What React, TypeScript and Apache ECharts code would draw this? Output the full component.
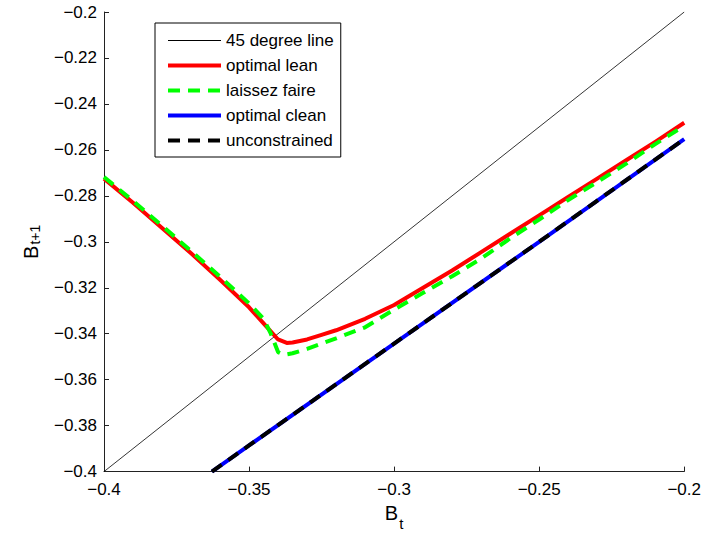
import React, { useEffect, useRef } from "react";
import * as echarts from "echarts";

// 45 degree line
const diagX = [-0.4, -0.2];
const diagY = [-0.4, -0.2];

// optimal lean
const leanX = [-0.4, -0.39, -0.38, -0.37, -0.36, -0.35, -0.345, -0.34, -0.337, -0.335, -0.33, -0.325, -0.32, -0.31, -0.3, -0.29, -0.28, -0.27, -0.26, -0.25, -0.24, -0.23, -0.22, -0.21, -0.2];
const leanY = [-0.2725, -0.283, -0.294, -0.305, -0.3165, -0.3285, -0.3355, -0.3425, -0.344, -0.3438, -0.3425, -0.3405, -0.3385, -0.3335, -0.3275, -0.32, -0.3125, -0.3045, -0.2965, -0.2885, -0.2805, -0.2725, -0.2645, -0.2565, -0.2482];

// laissez faire
const lfX = [-0.4, -0.39, -0.38, -0.37, -0.36, -0.35, -0.345, -0.3425, -0.34, -0.338, -0.335, -0.33, -0.32, -0.31, -0.3, -0.29, -0.28, -0.27, -0.26, -0.25, -0.24, -0.23, -0.22, -0.21, -0.2];
const lfY = [-0.2718, -0.2822, -0.293, -0.304, -0.3152, -0.3268, -0.3335, -0.34, -0.348, -0.3492, -0.3485, -0.3466, -0.342, -0.3372, -0.3295, -0.3222, -0.315, -0.3073, -0.2985, -0.2903, -0.2818, -0.274, -0.266, -0.2575, -0.2495];

// optimal clean
const cleanX = [-0.3628, -0.35, -0.3, -0.25, -0.2];
const cleanY = [-0.4, -0.3886, -0.3443, -0.3, -0.2553];

// unconstrained
const uncX = [-0.3628, -0.35, -0.3, -0.25, -0.2];
const uncY = [-0.4, -0.3886, -0.3443, -0.3, -0.2553];

const seriesNames = ["45 degree line", "optimal lean", "laissez faire", "optimal clean", "unconstrained"];

const FONT = "'Liberation Sans', Arial, Helvetica, sans-serif";

const zip = (xs: number[], ys: number[]) => xs.map((x, i) => [x, ys[i]]);
const fmt = (v: number) => String(parseFloat(v.toFixed(3))).replace("-", "\u2212");

export default function App() {
  const ref = useRef<HTMLDivElement>(null);
  useEffect(() => {
    if (!ref.current) return;
    const chart = echarts.init(ref.current, undefined, { renderer: "svg" });
    const dash = [12, 8];
    const hideSym = { opacity: 0, borderWidth: 0 };
    chart.setOption({
      animation: false,
      backgroundColor: "#ffffff",
      textStyle: { fontFamily: FONT },
      grid: { left: 104, right: 11, top: 12, bottom: 64, containLabel: false },
      legend: {
        left: 155,
        top: 23,
        orient: "vertical",
        backgroundColor: "#ffffff",
        borderColor: "#000000",
        borderWidth: 1,
        borderRadius: 0,
        padding: [9, 7, 8, 11],
        itemWidth: 53,
        itemHeight: 14,
        itemGap: 8,
        itemStyle: hideSym,
        textStyle: { fontFamily: FONT, fontSize: 17, color: "#000", lineHeight: 16 },
        data: [
          { name: seriesNames[0], lineStyle: { width: 1 }, itemStyle: hideSym },
          { name: seriesNames[1], lineStyle: { width: 4 }, itemStyle: hideSym },
          { name: seriesNames[2], lineStyle: { width: 4 }, itemStyle: hideSym },
          { name: seriesNames[3], lineStyle: { width: 4 }, itemStyle: hideSym },
          { name: seriesNames[4], lineStyle: { width: 4 }, itemStyle: hideSym },
        ],
      },
      xAxis: {
        type: "value",
        min: -0.4,
        max: -0.2,
        interval: 0.05,
        splitLine: { show: false },
        axisLine: { onZero: false, lineStyle: { color: "#222", width: 1 } },
        axisTick: { inside: true, length: 5, lineStyle: { color: "#222" } },
        axisLabel: { formatter: fmt, fontSize: 17, color: "#000", margin: 9, fontFamily: FONT },
        name: "{b|B}{s|t}",
        nameLocation: "middle",
        nameGap: 22,
        nameTextStyle: {
          rich: {
            b: { fontSize: 20, color: "#000", fontFamily: FONT },
            s: { fontSize: 15, color: "#000", fontFamily: FONT, padding: [22, 0, 0, 1] },
          },
        },
      },
      yAxis: {
        type: "value",
        min: -0.4,
        max: -0.2,
        interval: 0.02,
        splitLine: { show: false },
        axisLine: { onZero: false, lineStyle: { color: "#222", width: 1 } },
        axisTick: { inside: true, length: 5, lineStyle: { color: "#222" } },
        axisLabel: { formatter: fmt, fontSize: 17, color: "#000", margin: 7, fontFamily: FONT },
        name: "{b|B}{s|t+1}",
        nameLocation: "middle",
        nameGap: 62,
        nameTextStyle: {
          rich: {
            b: { fontSize: 20, color: "#000", fontFamily: FONT },
            s: { fontSize: 14, color: "#000", fontFamily: FONT, padding: [8, 0, 0, 1] },
          },
        },
      },
      series: [
        {
          name: seriesNames[0],
          type: "line",
          data: zip(diagX, diagY),
          symbol: "none",
          lineStyle: { color: "#000000", width: 0.8 },
          itemStyle: { color: "#000000" },
        },
        {
          name: seriesNames[1],
          type: "line",
          data: zip(leanX, leanY),
          symbol: "none",
          lineStyle: { color: "#ff0000", width: 4, join: "round" },
          itemStyle: { color: "#ff0000" },
        },
        {
          name: seriesNames[2],
          type: "line",
          data: zip(lfX, lfY),
          symbol: "none",
          lineStyle: { color: "#00ff00", width: 4, type: dash, cap: "butt" },
          itemStyle: { color: "#00ff00" },
        },
        {
          name: seriesNames[3],
          type: "line",
          data: zip(cleanX, cleanY),
          symbol: "none",
          lineStyle: { color: "#0000ff", width: 4 },
          itemStyle: { color: "#0000ff" },
        },
        {
          name: seriesNames[4],
          type: "line",
          data: zip(uncX, uncY),
          symbol: "none",
          lineStyle: { color: "#000000", width: 4, type: dash, cap: "butt" },
          itemStyle: { color: "#000000" },
        },
      ],
    });
    return () => chart.dispose();
  }, []);
  return <div ref={ref} style={{ width: 704, height: 536, position: "absolute", left: 0, top: 0 }} />;
}
